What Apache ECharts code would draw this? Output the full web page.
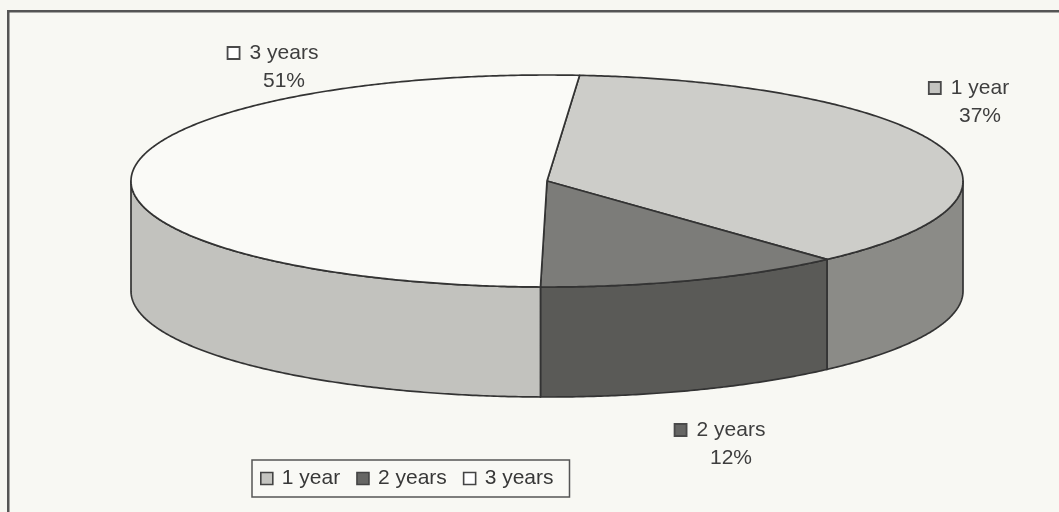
<!DOCTYPE html>
<html><head><meta charset="utf-8">
<script src="https://cdn.jsdelivr.net/npm/echarts@6/dist/echarts.min.js"></script>
<style>html,body{margin:0;padding:0;background:#f7f7f2}#c{width:1059px;height:512px}</style>
</head><body><div id="c"></div>
<script>
// ---- data ----
const categories = ['1 year', '2 years', '3 years'];
const values = [37, 12, 51];

// ---- styles / layout ----
const topColors = ['#cdcdc9', '#7c7c79', '#fafaf7'];
const sideColors = ['#8b8b87', '#5a5a57', '#c2c2be'];
const markerColors = ['#c4c4c0', '#666664', '#ffffff'];
const labelCenters = [[980, 88], [731, 430], [284, 53]];
const pie = { cx: 547, cy: 181, rx: 416, ry: 106, depth: 110, startAngle: -85.5 };
const FONT = '"Liberation Sans", Arial, sans-serif';
const FS = 21;
const TEXT = '#3e3e3e';

const mctx = document.createElement('canvas').getContext('2d');
mctx.font = FS + 'px ' + FONT;

function makeRender(i) {
  return function (params, api) {
    const total = values.reduce((a, b) => a + b, 0);
    let before = 0;
    for (let k = 0; k < i; k++) before += values[k];
    const v = api.value(0);
    const a0 = pie.startAngle + before / total * 360;
    const a1 = a0 + v / total * 360;
    const pt = (t, dz) => {
      const r = t * Math.PI / 180;
      return [pie.cx + pie.rx * Math.cos(r), pie.cy + pie.ry * Math.sin(r) + dz];
    };
    const children = [];
    for (const off of [-360, 0, 360]) {
      const s = Math.max(a0, off), e = Math.min(a1, 180 + off);
      if (e > s) {
        const pts = [];
        const n = Math.max(2, Math.ceil(e - s) * 2);
        for (let j = 0; j <= n; j++) pts.push(pt(s + (e - s) * j / n, 0));
        for (let j = n; j >= 0; j--) pts.push(pt(s + (e - s) * j / n, pie.depth));
        children.push({ type: 'polygon', shape: { points: pts },
          style: { fill: sideColors[i], stroke: '#333', lineWidth: 1.7, lineJoin: 'round' } });
      }
    }
    const tp = [[pie.cx, pie.cy]];
    const n = Math.ceil(a1 - a0) * 2;
    for (let j = 0; j <= n; j++) tp.push(pt(a0 + (a1 - a0) * j / n, 0));
    children.push({ type: 'polygon', shape: { points: tp },
      style: { fill: topColors[i], stroke: '#333', lineWidth: 1.7, lineJoin: 'round' } });

    // label
    const [lx, ly] = labelCenters[i];
    const name = categories[i];
    const w = mctx.measureText(name).width;
    children.push({ type: 'rect', shape: { x: lx - w / 2 - 22, y: ly - 6, width: 12, height: 12 },
      style: { fill: markerColors[i], stroke: '#4a4a4a', lineWidth: 1.8 } });
    children.push({ type: 'text', x: lx, y: ly,
      style: { text: name, fill: TEXT, font: FS + 'px ' + FONT, align: 'center', verticalAlign: 'middle' } });
    children.push({ type: 'text', x: lx, y: ly + 28,
      style: { text: Math.round(v / total * 100) + '%', fill: TEXT, font: FS + 'px ' + FONT, align: 'center', verticalAlign: 'middle' } });
    return { type: 'group', children };
  };
}

const chart = echarts.init(document.getElementById('c'), null, { renderer: 'canvas' });
chart.setOption({
  backgroundColor: '#f7f7f2',
  animation: false,
  graphic: [{
    type: 'rect', left: 7, top: 10, z: -10,
    shape: { width: 1070, height: 520 },
    style: { fill: '#f8f8f3', stroke: '#555', lineWidth: 2.5 }
  }],
  legend: {
    left: 252, top: 460, orient: 'horizontal',
    itemWidth: 12, itemHeight: 12, itemGap: 16,
    padding: [8, 16, 8, 8],
    borderColor: '#555', borderWidth: 1.5, backgroundColor: '#f9f9f5',
    selectedMode: false,
    textStyle: { fontSize: FS, color: '#383838', fontFamily: FONT, padding: [0, 0, 0, 4] },
    data: categories.map((c, i) => ({ name: c, icon: 'rect',
      itemStyle: { color: markerColors[i], borderColor: '#444', borderWidth: 1.6 } }))
  },
  series: categories.map((c, i) => ({
    type: 'custom', name: c, coordinateSystem: 'none', silent: true,
    renderItem: makeRender(i),
    itemStyle: { color: markerColors[i] },
    data: [[values[i]]]
  }))
});
</script></body></html>
